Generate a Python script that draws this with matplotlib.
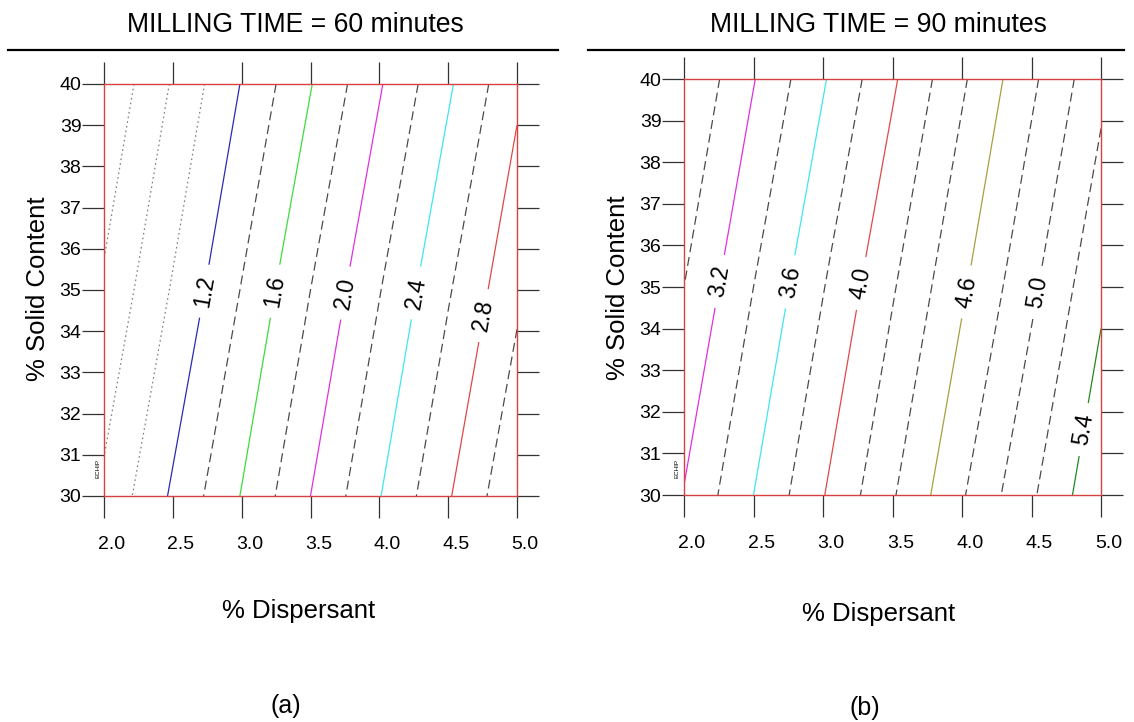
import matplotlib
matplotlib.use("Agg")
import matplotlib.pyplot as plt
import matplotlib.transforms as mtransforms
from matplotlib.lines import Line2D
import numpy as np

plt.rcParams['font.family'] = 'Liberation Sans'
plt.rcParams['lines.scale_dashes'] = False

# grid
dispersant = [2.0, 2.5, 3.0, 3.5, 4.0, 4.5, 5.0]
solid = [30, 35, 40]

# milling time 60 min
z_60 = [[0.84, 1.23, 1.61, 2.00, 2.39, 2.78, 3.17],
        [0.63, 1.02, 1.41, 1.80, 2.19, 2.58, 2.96],
        [0.43, 0.82, 1.21, 1.59, 1.98, 2.37, 2.76]]
levels_60 = [0.6, 0.8, 1.0, 1.2, 1.4, 1.6, 1.8, 2.0, 2.2, 2.4, 2.6, 2.8, 3.0]
labels_60 = [1.2, 1.6, 2.0, 2.4, 2.8]
labpos_60 = [(2.68, 35.0), (3.19, 35.0), (3.71, 34.95), (4.23, 34.95), (4.72, 34.4)]

# milling time 90 min
z_90 = [[3.21, 3.60, 3.99, 4.38, 4.78, 5.17, 5.56],
        [3.00, 3.40, 3.79, 4.18, 4.57, 4.96, 5.36],
        [2.80, 3.19, 3.58, 3.97, 4.37, 4.76, 5.15]]
levels_90 = [3.0, 3.2, 3.4, 3.6, 3.8, 4.0, 4.2, 4.4, 4.6, 4.8, 5.0, 5.2, 5.4]
labels_90 = [3.2, 3.6, 4.0, 4.6, 5.0, 5.4]
labpos_90 = [(2.23, 35.15), (2.72, 35.15), (3.25, 35.1), (4.0, 34.9), (4.49, 34.9), (4.83, 31.6)]

DOT = (0, (1.2, 2.2))
DASH = (0, (6.5, 3.5))
dashc = '#4a4a4a'
dotc = '#808080'

colors_60 = [dotc, dotc, dotc, '#2a2ab8', dashc, '#3ddc3d', dashc, '#e030e0',
             dashc, '#3ee6f0', dashc, '#e04848', dashc]
styles_60 = [DOT, DOT, DOT, 'solid', DASH, 'solid', DASH, 'solid',
             DASH, 'solid', DASH, 'solid', DASH]

colors_90 = [dashc, '#e030e0', dashc, '#3ee6f0', dashc, '#e04848', dashc, dashc,
             '#a8a040', dashc, dashc, dashc, '#208a20']
styles_90 = [DASH, 'solid', DASH, 'solid', DASH, 'solid', DASH, DASH,
             'solid', DASH, DASH, DASH, 'solid']

W, H = 1134, 722
fig = plt.figure(figsize=(W / 100, H / 100), dpi=100)


def px_rect(x0, y0, x1, y1):
    return [x0 / W, 1 - y1 / H, (x1 - x0) / W, (y1 - y0) / H]


def panel(rect, z, levels, colors, styles, lab_levels, lab_pos):
    ax = fig.add_axes(rect)
    X, Y = np.meshgrid(dispersant, solid)
    Z = np.array(z)
    # unlabelled and labelled levels drawn separately (clabel subset bug)
    plain = [i for i, l in enumerate(levels) if l not in lab_levels]
    lab = [i for i, l in enumerate(levels) if l in lab_levels]
    ax.contour(X, Y, Z, levels=[levels[i] for i in plain],
               colors=[colors[i] for i in plain],
               linestyles=[styles[i] for i in plain], linewidths=0.9)
    cs = ax.contour(X, Y, Z, levels=[levels[i] for i in lab],
                    colors=[colors[i] for i in lab],
                    linestyles=[styles[i] for i in lab], linewidths=0.9)
    ax.clabel(cs, manual=lab_pos, inline=True, inline_spacing=11,
              fontsize=16.5, colors='black', fmt='%.1f')
    ax.set_xlim(2, 5)
    ax.set_ylim(30, 40)
    ax.set_xticks(dispersant)
    ax.set_xticklabels(['%.1f' % v for v in dispersant])
    ax.set_yticks(range(30, 41))
    for s in ax.spines.values():
        s.set_color('#d94040')
        s.set_linewidth(1.0)
    ax.tick_params(axis='both', direction='out', length=15.8, width=0.9,
                   color='#333333', top=True, right=True, labelsize=14)
    ax.tick_params(axis='x', pad=13)
    ax.tick_params(axis='y', pad=0.5)
    off = mtransforms.ScaledTranslation(8 / 100, 0, fig.dpi_scale_trans)
    for t in ax.get_xticklabels():
        t.set_transform(t.get_transform() + off)
    return ax


ax1 = panel(px_rect(104, 84, 517, 496), z_60, levels_60, colors_60, styles_60,
            labels_60, labpos_60)
ax2 = panel(px_rect(684, 79, 1101, 495), z_90, levels_90, colors_90, styles_90,
            labels_90, labpos_90)


def ftext(x, y, s, **kw):
    fig.text(x / W, 1 - y / H, s, **kw)


big = 18.5
ftext(127, 32, 'MILLING TIME = 60 minutes', fontsize=19.2, ha='left', va='baseline')
ftext(710, 32, 'MILLING TIME = 90 minutes', fontsize=19.2, ha='left', va='baseline')
fig.add_artist(Line2D([8 / W, 558 / W], [1 - 50 / H] * 2, color='black', lw=1.6))
fig.add_artist(Line2D([588 / W, 1124 / W], [1 - 50 / H] * 2, color='black', lw=1.6))

ftext(38, 289, '% Solid Content', fontsize=big, rotation=90, ha='center', va='center')
ftext(618, 288, '% Solid Content', fontsize=big, rotation=90, ha='center', va='center')
ftext(299, 618, '% Dispersant', fontsize=big, ha='center', va='baseline')
ftext(879, 621, '% Dispersant', fontsize=big, ha='center', va='baseline')
ftext(286, 713, '(a)', fontsize=18, ha='center', va='baseline')
ftext(865, 715, '(b)', fontsize=18, ha='center', va='baseline')

ftext(98, 468, 'ECHIP', fontsize=4.5, rotation=90, ha='center', va='center')
ftext(677, 468, 'ECHIP', fontsize=4.5, rotation=90, ha='center', va='center')

fig.savefig('out.png', dpi=100)
